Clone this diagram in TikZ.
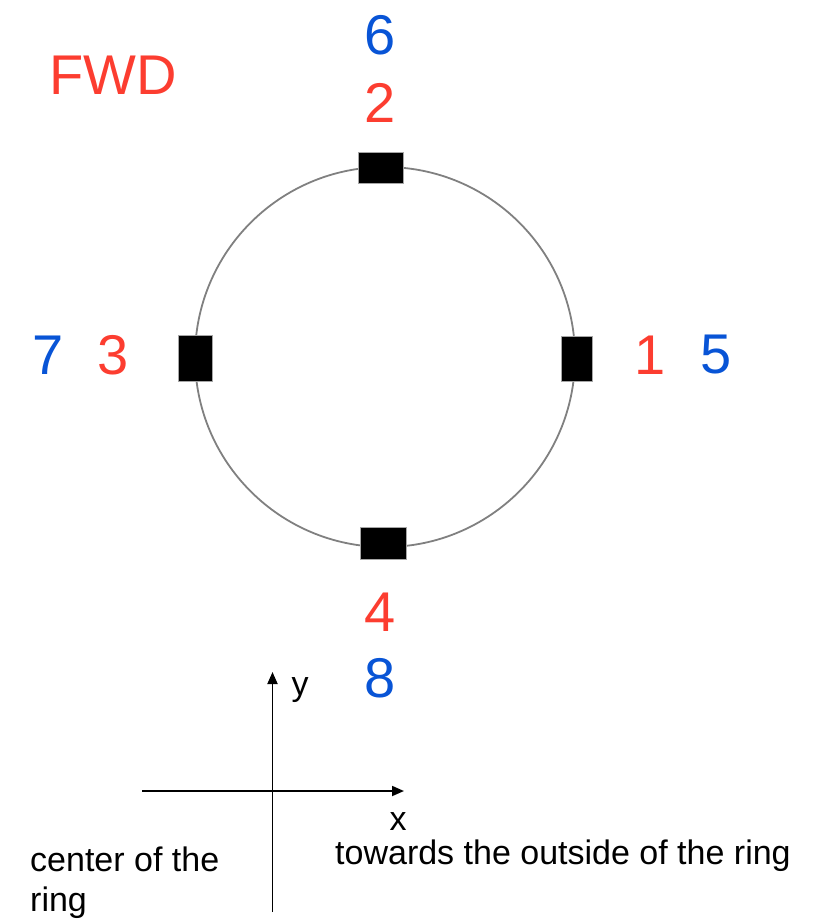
\documentclass[tikz,border=0pt]{standalone}
\usepackage{fontspec}
\setmainfont{Liberation Sans}
\usetikzlibrary{arrows.meta}

\definecolor{fwdred}{RGB}{252,61,48}
\definecolor{fwdblue}{RGB}{8,84,214}

\begin{document}
\begin{tikzpicture}[x=1pt,y=-1pt,>={Triangle[length=12pt,width=10pt]},
    pad/.style={draw=gray!70,line width=0.8pt,fill=black,inner sep=0pt},
    big/.style={font=\fontsize{56}{60}\selectfont,inner sep=0pt},
    small/.style={font=\fontsize{34}{40}\selectfont,inner sep=0pt}]
  \useasboundingbox (0,0) rectangle (824,919);
  % ring and pads
  \draw[gray,line width=1.8pt] (385,357) circle[radius=190];
  \node[pad,minimum width=45pt,minimum height=31pt] (padtop) at (380.5,167.5) {};
  \node[pad,minimum width=34pt,minimum height=46pt] (padleft) at (195,358) {};
  \node[pad,minimum width=31pt,minimum height=45pt] (padright) at (576.5,358.5) {};
  \node[pad,minimum width=46pt,minimum height=32pt] (padbot) at (383,543) {};
  % channel labels
  \node[big,fwdred] (fwd) at (113,75) {FWD};
  \node[big,fwdblue] (ch6) at (380,35) {6};
  \node[big,fwdred] (ch2) at (380,103) {2};
  \node[big,fwdblue] (ch7) at (48,355) {7};
  \node[big,fwdred] (ch3) at (113,355) {3};
  \node[big,fwdred] (ch1) at (650,355) {1};
  \node[big,fwdblue] (ch5) at (716,355) {5};
  \node[big,fwdred] (ch4) at (380,612) {4};
  \node[big,fwdblue] (ch8) at (380,678) {8};
  % axes
  \coordinate (xneg) at (142,791);
  \coordinate (xpos) at (404,791);
  \coordinate (ybot) at (272.5,912);
  \coordinate (ytop) at (272.5,672);
  \draw[line width=1.8pt,->] (xneg) -- (xpos);
  \draw[line width=1.8pt,->] (ybot) -- (ytop);
  \node[small] (ylab) at (300,690) {y};
  \node[small] (xlab) at (398,822) {x};
  \node[small,anchor=base west,align=left] (inner) at (30,911) {center of the\\ring};
  \node[small,anchor=base west] (outer) at (335,864) {towards the outside of the ring};
\end{tikzpicture}
\end{document}
